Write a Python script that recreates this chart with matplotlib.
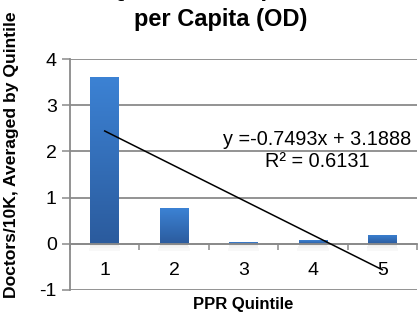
import numpy as np
import matplotlib
matplotlib.use('Agg')
import matplotlib.pyplot as plt
from matplotlib.colors import LinearSegmentedColormap

plt.rcParams['font.family'] = ['Liberation Sans', 'DejaVu Sans']
plt.rcParams['axes.unicode_minus'] = False

# data
quintiles = [1, 2, 3, 4, 5]
doctors = [3.61, 0.77, 0.04, 0.08, 0.20]
tick_labels = ['1', '2', '3', '4', '5']
eq_text = 'y =-0.7493x + 3.1888'
r2_text = 'R² = 0.6131'
title_lines = ['PPR Quintile vs. Optometrists', 'per Capita (OD)']

grey = '#8a8a8a'

fig = plt.figure(figsize=(4.18, 3.12), dpi=100)
ax = fig.add_axes([70 / 418, 1 - 290 / 312, 347 / 418, 231 / 312])

# grid behind everything
ax.set_axisbelow(True)
for v in range(-1, 5):
    ax.axhline(v, color=grey, lw=1.3, zorder=0)

# bars with a vertical gradient
bar_w = 0.41
cmap = LinearSegmentedColormap.from_list('barblue', ['#2b5b9d', '#3c82d4'])
grad = np.linspace(0, 1, 256).reshape(-1, 1)
bars = ax.bar(quintiles, doctors, width=bar_w, color='none', zorder=2)
for b in bars:
    x0, w, h = b.get_x(), b.get_width(), b.get_height()
    # soft shadow under the bar
    for i, a in enumerate([0.10, 0.07, 0.04]):
        ax.add_patch(plt.Rectangle((x0 - 0.01 * i, -0.05 - 0.05 * i), w + 0.02 * i, 0.05,
                                   color='#555555', alpha=a, lw=0, zorder=1))
    im = ax.imshow(grad, extent=(x0, x0 + w, 0, h), origin='lower', cmap=cmap,
                   aspect='auto', zorder=2)
    im.set_clip_path(b)

# linear trend line fitted on the bars
slope, icpt = np.polyfit(quintiles, doctors, 1)
xs = np.array([quintiles[0], quintiles[-1]])
ax.plot(xs, slope * xs + icpt, color='black', lw=1.1, zorder=3)

ax.set_xlim(0.5, 5.5)
ax.set_ylim(-1, 4)

# axes styling
for s in ['top', 'right']:
    ax.spines[s].set_visible(False)
ax.spines['left'].set_color(grey)
ax.spines['left'].set_linewidth(1.3)
ax.spines['bottom'].set_position(('data', 0))
ax.spines['bottom'].set_color(grey)
ax.spines['bottom'].set_linewidth(1.3)

ax.set_yticks(range(-1, 5))
ax.tick_params(axis='y', length=5.5, width=1.1, color=grey, pad=4, labelsize=14)
ax.set_xticks(quintiles)
ax.set_xticklabels(tick_labels)
ax.set_xticks(np.arange(0.5, 6.0, 1.0), minor=True)
ax.tick_params(axis='x', which='major', length=0, pad=13, labelsize=14)
ax.tick_params(axis='x', which='minor', length=4, width=1.1, color=grey)

ax.text(0.5, -0.03, 'PPR Quintile', transform=ax.transAxes, ha='center', va='top',
        fontsize=12, fontweight='bold')

# trend line equation
fig.text(317 / 418, 1 - 145 / 312, eq_text, fontsize=14.3, ha='center', va='baseline')
fig.text(317 / 418, 1 - 167 / 312, r2_text, fontsize=14.3, ha='center', va='baseline')

fig.text(12 / 418, 1 - 155 / 312, 'Doctors/10K, Averaged by Quintile', rotation=90,
         ha='center', va='center', fontsize=12.6, fontweight='bold')

# first title line sits mostly above the top edge, as in the original
fig.text(221 / 418, 1 + 4 / 312, title_lines[0], ha='center', va='baseline',
         fontsize=17, fontweight='bold')
fig.text(221 / 418, 1 - 26 / 312, title_lines[1], ha='center', va='baseline',
         fontsize=17, fontweight='bold')

fig.savefig('out.png', dpi=100)
